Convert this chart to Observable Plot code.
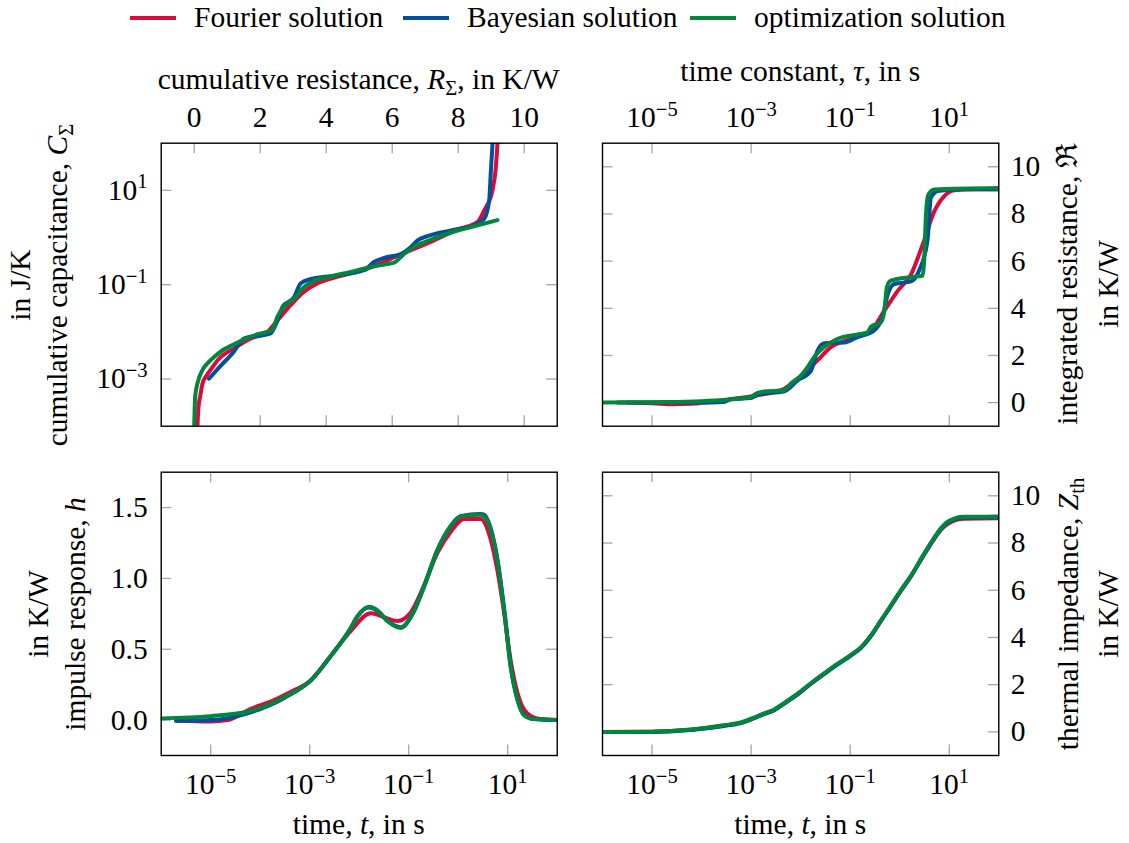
<!DOCTYPE html>
<html><head><meta charset="utf-8">
<script src="https://cdn.jsdelivr.net/npm/d3@7"></script>
<script src="https://cdn.jsdelivr.net/npm/@observablehq/plot@0.6"></script>
<style>
body{margin:0;background:#fff;}
#fig{position:relative;width:1129px;height:843px;font-family:"Liberation Serif","Times New Roman",serif;font-size:29.5px;color:#000;overflow:hidden;background:#fff}
#fig svg{position:absolute;}
.lab{position:absolute;white-space:nowrap;line-height:29.5px;}
.rot{transform:translate(-50%,-50%) rotate(-90deg);}
.hz{transform:translateX(-50%);}
.sub{position:relative;top:0.28em;font-size:0.7em;line-height:0;}
.leg{position:absolute;top:3px;white-space:nowrap;line-height:29.5px;display:flex;align-items:center}
.sw{display:inline-block;width:46px;height:4px;margin-right:18px}
</style></head><body><div id="fig"></div>
<script>
// ---------- series names & colours ----------
const seriesNames = ["Fourier solution", "Bayesian solution", "optimization solution"];
const seriesColors = ["#dc0a3c", "#00509b", "#00873c"];

// ---------- (a) cumulative structure: C_sigma vs R_sigma ----------
const csR_fourier = [0.09,0.10,0.13,0.18,0.25,0.35,0.50,0.71,1.21,1.72,2.22,2.53,2.93,3.33,3.74,4.35,5.25,6.26,7.27,7.98,8.59,8.79,9.04,9.14,9.19,9.21];
const csC_fourier = [5e-5,1.0e-4,2.51e-4,4.27e-4,7.94e-4,1.12e-3,1.58e-3,2.51e-3,4.47e-3,7.24e-3,1.0e-2,1.78e-2,3.72e-2,7.08e-2,0.107,0.148,0.219,0.437,0.871,1.48,2.14,3.8,10,30.9,100,200];
const csR_bayes = [0.45,0.80,1.16,1.52,2.32,2.53,2.68,3.03,3.23,3.54,4.24,5.15,5.45,5.76,6.26,6.57,6.77,7.07,7.78,8.48,8.79,8.94,8.99,9.04,9.06];
const csC_bayes = [1.02e-3,1.91e-3,3.47e-3,7.24e-3,9.33e-3,1.78e-2,3.39e-2,5.50e-2,0.107,0.132,0.155,0.204,0.302,0.372,0.447,0.631,0.871,1.07,1.41,1.82,2.51,6.17,26.3,100,200];
const csR_opt = [-0.01,0,0.03,0.10,0.25,0.40,0.61,0.86,1.16,1.52,1.92,2.37,2.52,2.72,3.03,3.33,3.64,4.24,4.75,5.25,5.76,6.06,6.37,6.77,7.27,7.98,8.59,9.19];
const csC_opt = [5e-5,1.0e-4,4.27e-4,8.13e-4,1.55e-3,2.14e-3,2.95e-3,4.07e-3,5.25e-3,6.92e-3,8.91e-3,1.10e-2,2.09e-2,3.39e-2,5.13e-2,8.91e-2,0.120,0.155,0.186,0.229,0.269,0.295,0.457,0.692,0.955,1.41,1.82,2.34];

// ---------- (b) integrated resistance vs time constant ----------
const irTau_fourier = [3.16e-6,1e-5,2.75e-5,6.31e-5,2.82e-4,1.35e-3,4.68e-3,8.71e-3,2.19e-2,4.07e-2,0.102,0.263,0.49,0.912,1.70,3.09,5.01,7.94,12.6,31.6,100];
const irR_fourier = [0,-0.03,-0.07,-0.05,0.1,0.31,0.59,1.01,1.79,2.35,2.7,3.05,3.9,4.74,5.45,6.86,8.12,8.76,9.0,9.05,9.05];
const irTau_bayes = [2e-6,1e-4,2.82e-4,4e-4,1e-3,1.41e-3,4.68e-3,8.71e-3,1.62e-2,2.19e-2,3.02e-2,7.59e-2,0.141,0.302,0.447,0.575,0.776,1.70,2.45,3.63,4.27,5.89,15.8,100];
const irR_bayes = [0,0,0.03,0.15,0.2,0.35,0.48,0.94,1.36,2.21,2.52,2.55,2.78,3.05,3.62,4.6,5.03,5.14,5.59,6.86,8.69,8.97,9.05,9.05];
const irTau_opt = [1e-6,1e-5,1e-4,3.16e-4,1e-3,1.26e-3,1.82e-3,4.68e-3,6.31e-3,1.02e-2,1.38e-2,1.86e-2,2.57e-2,5.62e-2,0.141,0.224,0.263,0.417,0.49,0.55,0.66,1.45,2.88,3.09,3.39,3.80,5.01,100];
const irR_opt = [0,0.02,0.06,0.12,0.24,0.38,0.47,0.52,0.8,1.15,1.5,1.93,2.24,2.7,2.89,2.98,3.22,3.41,3.9,4.89,5.17,5.31,5.38,5.87,7.99,8.83,9.04,9.1];

// ---------- (c) impulse response vs time ----------
const hT_fourier = [2e-6,1e-5,2.19e-5,6.46e-5,1.62e-4,4.17e-4,1.05e-3,2.63e-3,6.76e-3,1.70e-2,2.51e-2,5.89e-2,0.110,0.204,0.380,0.708,1.32,2.82,4.57,6.17,8.51,11.5,15.8,25.1,45.7,100];
const hV_fourier = [-0.005,-0.01,0.0,0.08,0.13,0.2,0.28,0.45,0.63,0.755,0.74,0.70,0.76,0.95,1.18,1.33,1.42,1.42,1.27,1.06,0.75,0.42,0.19,0.047,0.007,0];
const hT_bayes = [2e-6,1e-5,6.46e-5,3.02e-4,1.05e-3,2.63e-3,6.76e-3,9.12e-3,1.58e-2,2.34e-2,3.72e-2,6.92e-2,0.129,0.204,0.380,0.708,1.12,2.82,3.31,4.57,6.17,8.51,11.5,15.8,21.4,33.9,100];
const hV_bayes = [-0.005,0.0,0.055,0.155,0.28,0.45,0.65,0.73,0.795,0.77,0.70,0.655,0.77,0.945,1.2,1.37,1.44,1.455,1.45,1.35,1.14,0.78,0.38,0.145,0.037,0.008,0];
const hT_opt = [1e-6,1e-5,6.46e-5,3.02e-4,1.05e-3,2.63e-3,6.76e-3,9.12e-3,1.58e-2,2.34e-2,3.72e-2,6.92e-2,0.129,0.204,0.380,0.708,1.12,2.82,3.31,4.57,6.17,8.51,11.5,15.8,21.4,33.9,100];
const hV_opt = [0.012,0.028,0.066,0.16,0.28,0.45,0.65,0.73,0.80,0.775,0.70,0.65,0.775,0.94,1.2,1.37,1.44,1.45,1.44,1.34,1.13,0.77,0.375,0.14,0.035,0.007,0];

// ---------- (d) thermal impedance vs time ----------
const zthTime = [1e-6,1e-5,6.03e-5,2.82e-4,6.17e-4,1e-3,1.82e-3,2.88e-3,4.68e-3,8.71e-3,1.62e-2,3.02e-2,5.62e-2,0.1,0.166,0.263,0.417,0.661,1.05,1.70,3.09,5.01,6.76,10,20,100];
const zth_fourier = [0,0.01,0.09,0.26,0.38,0.54,0.76,0.92,1.21,1.60,2.04,2.47,2.88,3.22,3.58,4.07,4.70,5.33,5.97,6.60,7.50,8.18,8.55,8.85,9.03,9.05];
const zth_bayes = [0,0.0,0.08,0.25,0.37,0.53,0.75,0.91,1.20,1.59,2.05,2.46,2.86,3.21,3.56,4.06,4.70,5.33,5.97,6.61,7.52,8.21,8.58,8.90,9.07,9.08];
const zth_opt = [0,0.01,0.1,0.28,0.40,0.56,0.78,0.94,1.23,1.62,2.07,2.49,2.89,3.24,3.59,4.09,4.72,5.35,5.99,6.62,7.54,8.24,8.62,8.94,9.11,9.12];

// ---------- tick values ----------
const linTicks10 = [0,2,4,6,8,10];
const logTicksC = [1e-3,1e-1,1e1];
const logTicksT = [1e-5,1e-3,1e-1,1e1];
const hTicks = [0,0.5,1.0,1.5];

const zip = (xs, ys) => xs.map((x, i) => ({x, y: ys[i]}));
const expFmt = d => "10^" + String(Math.round(Math.log10(d))).replace("-", "\u2212");

const fig = document.getElementById("fig");
const TL = 10.5, tickColor = "#a6a6a6";

function supify(svg) {
  svg.querySelectorAll("text").forEach(t => {
    const m = /^10\^(.+)$/.exec(t.textContent);
    if (!m) return;
    while (t.firstChild) t.removeChild(t.firstChild);
    t.appendChild(document.createTextNode("10"));
    const sp = document.createElementNS("http://www.w3.org/2000/svg", "tspan");
    sp.setAttribute("dy", "-0.55em");
    sp.setAttribute("font-size", "0.7em");
    sp.textContent = m[1];
    t.appendChild(sp);
  });
}

function panel({box, frame, x, y, series, xTicks, yTicks, xAnchor, yAnchor, xFmt, yFmt, xPad, yPad}) {
  const [bx, by, bw, bh] = box;
  const [fx0, fy0, fx1, fy1] = frame;
  const iw = fx1 - fx0, ih = fy1 - fy0;
  const svg = Plot.plot({
    width: bw, height: bh,
    marginLeft: fx0 - bx, marginTop: fy0 - by,
    marginRight: bx + bw - fx1, marginBottom: by + bh - fy1,
    style: {fontFamily: '"Liberation Serif","Times New Roman",serif', fontSize: "29.5px", color: "#000", background: "transparent", overflow: "visible"},
    x, y,
    marks: [
      Plot.tickX(xTicks, {x: d => d, insetTop: ih - TL, stroke: tickColor, strokeWidth: 1.3}),
      Plot.tickX(xTicks, {x: d => d, insetBottom: ih - TL, stroke: tickColor, strokeWidth: 1.3}),
      Plot.tickY(yTicks, {y: d => d, insetLeft: iw - TL, stroke: tickColor, strokeWidth: 1.3}),
      Plot.tickY(yTicks, {y: d => d, insetRight: iw - TL, stroke: tickColor, strokeWidth: 1.3}),
      ...series.map((s, i) => Plot.line(s, {x: "x", y: "y", stroke: seriesColors[i], strokeWidth: 4, curve: "monotone-x", clip: true})),
      Plot.frame({stroke: "#000", strokeWidth: 1.4}),
      Plot.axisX({anchor: xAnchor, ticks: xTicks, tickSize: 0, tickPadding: xPad, tickFormat: xFmt, label: null}),
      Plot.axisY({anchor: yAnchor, ticks: yTicks, tickSize: 0, tickPadding: yPad, tickFormat: yFmt, label: null})
    ]
  });
  svg.style.left = bx + "px";
  svg.style.top = by + "px";
  supify(svg);
  fig.appendChild(svg);
}

// (a)
panel({
  box: [90, 95, 480, 345], frame: [160.7, 142.7, 556.7, 425.7],
  x: {type: "linear", domain: [-1, 11]}, y: {type: "log", domain: [1e-4, 1e2]},
  series: [zip(csR_fourier, csC_fourier), zip(csR_bayes, csC_bayes), zip(csR_opt, csC_opt)],
  xTicks: linTicks10, yTicks: logTicksC, xAnchor: "top", yAnchor: "left",
  xFmt: d => String(d), yFmt: expFmt, xPad: 16, yPad: 13.5
});
// (b)
panel({
  box: [580, 95, 480, 345], frame: [602, 142.7, 998.3, 425.7],
  x: {type: "log", domain: [1e-6, 1e2]}, y: {type: "linear", domain: [-1, 11]},
  series: [zip(irTau_fourier, irR_fourier), zip(irTau_bayes, irR_bayes), zip(irTau_opt, irR_opt)],
  xTicks: logTicksT, yTicks: linTicks10, xAnchor: "top", yAnchor: "right",
  xFmt: expFmt, yFmt: d => String(d), xPad: 16, yPad: 12
});
// (c)
panel({
  box: [90, 445, 480, 375], frame: [160.7, 471.7, 556.7, 755],
  x: {type: "log", domain: [1e-6, 1e2]}, y: {type: "linear", domain: [-0.25, 1.75]},
  series: [zip(hT_fourier, hV_fourier), zip(hT_bayes, hV_bayes), zip(hT_opt, hV_opt)],
  xTicks: logTicksT, yTicks: hTicks, xAnchor: "bottom", yAnchor: "left",
  xFmt: expFmt, yFmt: d3.format(".1f"), xPad: 18, yPad: 13.5
});
// (d)
panel({
  box: [580, 445, 480, 375], frame: [602, 471.7, 998.3, 755],
  x: {type: "log", domain: [1e-6, 1e2]}, y: {type: "linear", domain: [-1, 11]},
  series: [zip(zthTime, zth_fourier), zip(zthTime, zth_bayes), zip(zthTime, zth_opt)],
  xTicks: logTicksT, yTicks: linTicks10, xAnchor: "bottom", yAnchor: "right",
  xFmt: expFmt, yFmt: d => String(d), xPad: 18, yPad: 12
});

// ---------- legend ----------
const legLefts = [130, 403, 690];
seriesNames.forEach((name, i) => {
  const d = document.createElement("div");
  d.className = "leg";
  d.style.left = legLefts[i] + "px";
  d.innerHTML = `<span class="sw" style="background:${seriesColors[i]}"></span><span>${name}</span>`;
  fig.appendChild(d);
});

// ---------- axis titles ----------
function label(html, cx, cy, rotated) {
  const d = document.createElement("div");
  d.className = "lab " + (rotated ? "rot" : "hz");
  d.style.left = cx + "px";
  d.style.top = cy + "px";
  d.innerHTML = html;
  fig.appendChild(d);
}
label('cumulative resistance, <i>R</i><span class="sub">Σ</span>, in K/W', 358.7, 65, false);
label('time constant, <i>τ</i>, in s', 800.2, 57, false);
label('time, <i>t</i>, in s', 358.7, 810, false);
label('time, <i>t</i>, in s', 800.2, 810, false);
label('in J/K', 21, 284.5, true);
label('cumulative capacitance, <i>C</i><span class="sub">Σ</span>', 58, 284.5, true);
label('in K/W', 39, 614, true);
label('impulse response, <i>h</i>', 76, 614, true);
label('integrated resistance, ℜ', 1068, 284, true);
label('in K/W', 1109, 284, true);
label('thermal impedance, <i>Z</i><span class="sub">th</span>', 1069, 614, true);
label('in K/W', 1109, 614, true);
</script></body></html>
